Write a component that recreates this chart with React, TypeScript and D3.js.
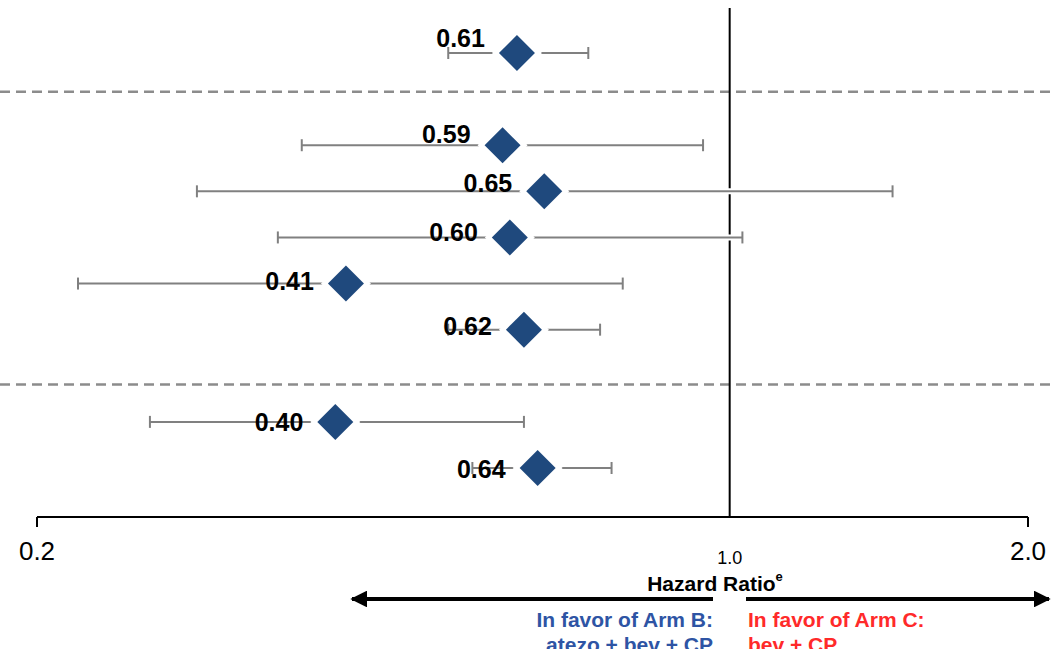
import React from "react";
import * as d3 from "d3";

// Hazard ratios with 95% confidence limits, one entry per subgroup row
const hazardRatios = [0.61, 0.59, 0.65, 0.6, 0.41, 0.62, 0.4, 0.64];
const lowerCI = [0.52, 0.37, 0.29, 0.35, 0.22, 0.52, 0.26, 0.55];
const upperCI = [0.72, 0.94, 1.46, 1.03, 0.78, 0.74, 0.62, 0.76];
// Row slot of each estimate (groups are separated by an empty slot)
const rowSlots = [0, 2, 3, 4, 5, 6, 8, 9];
// Slots where the dashed group dividers sit
const dividerSlots = [0.84, 7.19];
const tickValues = [0.2, 2.0];
const referenceValue = 1.0;

// Vertical nudge of each value label relative to its row
const labelNudge = [-15, -11, -8, -5, -3, -4, 0, 1];

const W = 1051;
const H = 649;
const NAVY = "#1f497d";
const GREY = "#808080";
const FONT = "'Liberation Sans', Arial, sans-serif";

export default function App() {
  const x = d3.scaleLog().domain([0.2, 2.0]).range([37, 1028]);
  const y = d3.scaleLinear().domain([0, 9]).range([53, 468]);
  const axisY = 517;
  const refX = x(referenceValue);
  const diamond = (cx: number, cy: number, r: number) =>
    `M${cx},${cy - r}L${cx + r},${cy}L${cx},${cy + r}L${cx - r},${cy}Z`;

  const arrowY = 599;
  const leftArrowEnd = 350;
  const rightArrowEnd = 1051;

  return (
    <svg
      width={W}
      height={H}
      style={{ position: "absolute", left: 0, top: 0, background: "#fff" }}
      fontFamily={FONT}
    >
      <defs>
        <marker id="ah" viewBox="0 0 10 10" refX="9" refY="5" markerWidth="4.2" markerHeight="4.2" orient="auto-start-reverse" markerUnits="strokeWidth">
          <path d="M0,0L10,5L0,10Z" fill="#000" />
        </marker>
      </defs>

      {/* group dividers */}
      {dividerSlots.map((s, i) => (
        <line key={i} x1={0} x2={W} y1={y(s)} y2={y(s)} stroke="#8c8c8c" strokeWidth={2.5} strokeDasharray="10 6" />
      ))}

      {/* line of no effect */}
      <line x1={refX} x2={refX} y1={8} y2={axisY} stroke="#000" strokeWidth={2} />

      {/* confidence intervals */}
      {hazardRatios.map((_, i) => {
        const cy = y(rowSlots[i]);
        const x0 = x(lowerCI[i]);
        const x1 = x(upperCI[i]);
        return (
          <g key={i}>
            <line x1={x0} x2={x1} y1={cy} y2={cy} stroke="#fff" strokeWidth={6} />
            <line x1={x0} x2={x1} y1={cy} y2={cy} stroke={GREY} strokeWidth={2} />
            <line x1={x0} x2={x0} y1={cy - 6} y2={cy + 6} stroke={GREY} strokeWidth={2} />
            <line x1={x1} x2={x1} y1={cy - 6} y2={cy + 6} stroke={GREY} strokeWidth={2} />
          </g>
        );
      })}

      {/* point estimates */}
      {hazardRatios.map((v, i) => {
        const cx = x(v);
        const cy = y(rowSlots[i]);
        return (
          <g key={i}>
            <path d={diamond(cx, cy, 25)} fill="#fff" />
            <path d={diamond(cx, cy, 18)} fill={NAVY} />
            <text
              x={cx - 32}
              y={cy + labelNudge[i]}
              textAnchor="end"
              dominantBaseline="central"
              fontWeight="bold"
              fontSize={25}
              fill="#000"
            >
              {v.toFixed(2)}
            </text>
          </g>
        );
      })}

      {/* x axis */}
      <line x1={x(0.2)} x2={x(2.0)} y1={axisY} y2={axisY} stroke="#000" strokeWidth={2} />
      {tickValues.map((t) => (
        <g key={t}>
          <line x1={x(t)} x2={x(t)} y1={axisY} y2={axisY + 10} stroke="#000" strokeWidth={2} />
          <text x={x(t)} y={551} textAnchor="middle" dominantBaseline="central" fontSize={26} fill="#000">
            {t.toFixed(1)}
          </text>
        </g>
      ))}
      <text x={refX} y={558} textAnchor="middle" dominantBaseline="central" fontSize={18} fill="#000">
        {referenceValue.toFixed(1)}
      </text>

      {/* axis title */}
      <text x={715} y={583} textAnchor="middle" dominantBaseline="central" fontSize={21} fontWeight="bold" fill="#000">
        Hazard Ratio
        <tspan fontSize={13} dy={-7}>e</tspan>
      </text>

      {/* direction arrows */}
      <line x1={713} x2={leftArrowEnd + 2} y1={arrowY} y2={arrowY} stroke="#000" strokeWidth={4} markerEnd="url(#ah)" />
      <line x1={746} x2={rightArrowEnd - 2} y1={arrowY} y2={arrowY} stroke="#000" strokeWidth={4} markerEnd="url(#ah)" />

      <text x={713} y={619} textAnchor="end" dominantBaseline="central" fontSize={21} fontWeight="bold" fill="#2e54a4">
        In favor of Arm B:
      </text>
      <text x={713} y={644} textAnchor="end" dominantBaseline="central" fontSize={21} fontWeight="bold" fill="#2e54a4">
        atezo + bev + CP
      </text>
      <text x={748} y={619} textAnchor="start" dominantBaseline="central" fontSize={21} fontWeight="bold" fill="#ff2a2a">
        In favor of Arm C:
      </text>
      <text x={748} y={644} textAnchor="start" dominantBaseline="central" fontSize={21} fontWeight="bold" fill="#ff2a2a">
        bev + CP
      </text>
    </svg>
  );
}
